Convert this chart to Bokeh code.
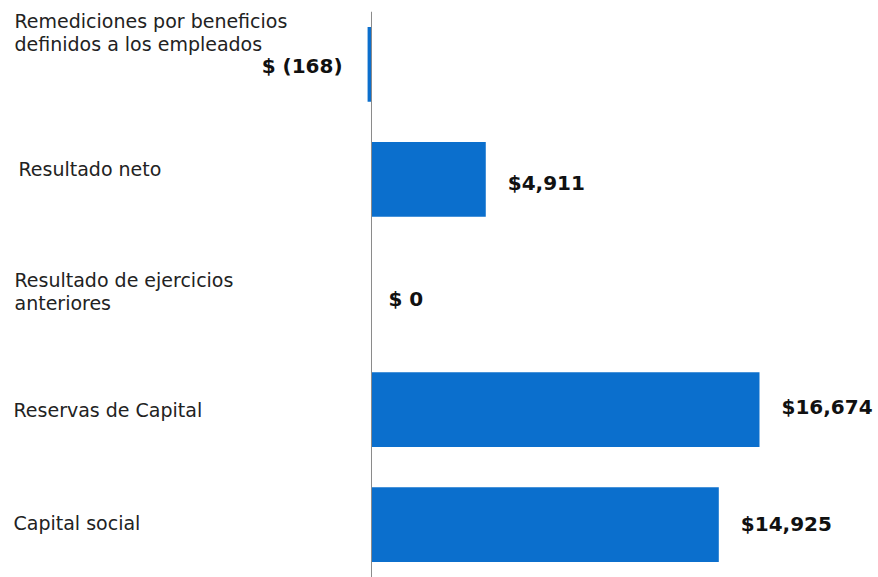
from bokeh.plotting import figure
from bokeh.models import ColumnDataSource, Span, FactorRange
from bokeh.core.properties import value
from bokeh.embed import file_html
from bokeh.resources import INLINE

# ---- data ----
categories = [
    "Remediciones por beneficios\ndefinidos a los empleados",
    "Resultado neto",
    "Resultado de ejercicios\nanteriores",
    "Reservas de Capital",
    "Capital social",
]
values = [-168, 4911, 0, 16674, 14925]
value_labels = ["$ (168)", "$4,911", "$ 0", "$16,674", "$14,925"]

# ---- layout ----
keys = [f"c{i}" for i in range(len(categories))]
factors = list(reversed(keys))
X0, X1 = -15943, 21788
BLUE = "#0b6fcd"

p = figure(width=878, height=577, output_backend="svg", toolbar_location=None,
           y_range=FactorRange(*factors, range_padding=-0.04, range_padding_units="absolute"),
           x_range=(X0, X1), min_border=0, min_border_top=11)
p.outline_line_color = None
p.axis.visible = False
p.grid.visible = False
p.background_fill_color = "white"

src = ColumnDataSource(dict(y=keys, v=values))
p.hbar(y="y", left=0, right="v", height=0.65, source=src,
       fill_color=BLUE, line_color=None)

p.add_layout(Span(location=0, dimension="height", line_color="#8a8a8a", line_width=1))

cat_dy = [-32, -10, -3, 0, -2]
cat_dx = [14, 18, 14, 13, 13]
for k, c, dy, dx in zip(keys, categories, cat_dy, cat_dx):
    p.text(x=[X0], y=[k], text=[c], x_offset=dx, y_offset=dy,
           text_font=value("DejaVu Sans"), text_font_size="19px",
           text_color="#222222", text_align="left", text_baseline="middle",
           text_line_height=1.08)

val_dy = [2, 4, 4, -3, -1]
for k, v, lab, dy in zip(keys, values, value_labels, val_dy):
    if v < 0:
        p.text(x=[v], y=[k], text=[lab], x_offset=-25, y_offset=dy,
               text_font=value("DejaVu Sans"), text_font_style="bold",
               text_font_size="20px", text_color="#111111",
               text_align="right", text_baseline="middle")
    else:
        p.text(x=[v], y=[k], text=[lab], x_offset=22 if v > 0 else 17, y_offset=dy,
               text_font=value("DejaVu Sans"), text_font_style="bold",
               text_font_size="20px", text_color="#111111",
               text_align="left", text_baseline="middle")

open("out.html", "w").write(file_html(p, INLINE))
